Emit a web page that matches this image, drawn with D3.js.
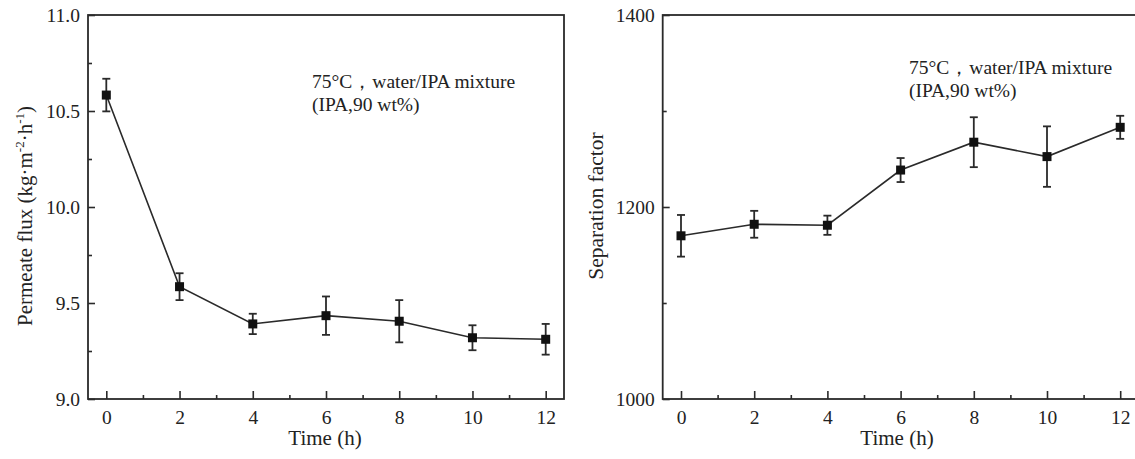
<!DOCTYPE html>
<html>
<head>
<meta charset="utf-8">
<script src="https://cdn.jsdelivr.net/npm/d3@7"></script>
<style>
  body { margin: 0; background: #fff; }
  svg text { font-family: "Liberation Serif", "Times New Roman", serif; fill: #222; }
</style>
</head>
<body>
<svg id="chart" width="1135" height="459"></svg>
<script>
// Data
var times = [0, 2, 4, 6, 8, 10, 12];
var fluxValues = [10.583, 9.585, 9.391, 9.434, 9.405, 9.319, 9.311];
var fluxErrors = [0.085, 0.07, 0.053, 0.10, 0.11, 0.065, 0.08];
var sepValues = [1170, 1182, 1181, 1238.5, 1267.5, 1252.5, 1283];
var sepErrors = [21.7, 14, 10, 12.5, 26, 31.5, 12];
var xTicks = [0, 2, 4, 6, 8, 10, 12];
var fluxTicks = [9.0, 9.5, 10.0, 10.5, 11.0];
var sepTicks = [1000, 1200, 1400];
var noteLine1 = "75°C，water/IPA mixture";
var noteLine2 = "(IPA,90 wt%)";

var svg = d3.select("#chart");
var stroke = "#2a2a2a";

function drawPanel(opt) {
  var x = d3.scaleLinear().domain([-0.5, 12.5]).range([opt.left, opt.right]);
  var y = d3.scaleLinear().domain(opt.yDomain).range([399, 15]);
  var g = svg.append("g");

  // frame
  g.append("rect")
    .attr("x", opt.left).attr("y", 15)
    .attr("width", opt.right - opt.left).attr("height", 384)
    .attr("fill", "none").attr("stroke", stroke).attr("stroke-width", 1.8);

  // x axis (ticks inward)
  var xAxis = g.append("g").attr("transform", "translate(0,399)")
    .call(d3.axisBottom(x).tickValues(xTicks).tickSizeInner(-8).tickSizeOuter(0).tickPadding(11).tickFormat(d3.format("d")));
  xAxis.select(".domain").remove();
  g.append("g").attr("transform", "translate(0,399)")
    .call(d3.axisBottom(x).tickValues(d3.range(1, 13, 2)).tickSizeInner(-4).tickSizeOuter(0).tickFormat(""))
    .select(".domain").remove();

  // y axis
  var yAxis = g.append("g").attr("transform", "translate(" + opt.left + ",0)")
    .call(d3.axisLeft(y).tickValues(opt.yTicks).tickSizeInner(-7).tickSizeOuter(0).tickPadding(8).tickFormat(opt.yFormat));
  yAxis.select(".domain").remove();
  g.append("g").attr("transform", "translate(" + opt.left + ",0)")
    .call(d3.axisLeft(y).tickValues(opt.yMinor).tickSizeInner(-4).tickSizeOuter(0).tickFormat(""))
    .select(".domain").remove();

  g.selectAll(".tick line").attr("stroke", stroke).attr("stroke-width", 1.6);
  g.selectAll(".tick text").attr("font-size", 19.5).attr("fill", "#222")
    .style("font-family", "'Liberation Serif', serif");

  // error bars
  var pts = times.map(function (t, i) { return { t: t, v: opt.values[i], e: opt.errors[i] }; });
  var eb = g.selectAll(".eb").data(pts).enter().append("g").attr("class", "eb");
  eb.append("line")
    .attr("x1", d => x(d.t)).attr("x2", d => x(d.t))
    .attr("y1", d => y(d.v - d.e)).attr("y2", d => y(d.v + d.e));
  eb.append("line")
    .attr("x1", d => x(d.t) - 4).attr("x2", d => x(d.t) + 4)
    .attr("y1", d => y(d.v + d.e)).attr("y2", d => y(d.v + d.e));
  eb.append("line")
    .attr("x1", d => x(d.t) - 4).attr("x2", d => x(d.t) + 4)
    .attr("y1", d => y(d.v - d.e)).attr("y2", d => y(d.v - d.e));
  eb.selectAll("line").attr("stroke", stroke).attr("stroke-width", 1.8);

  // line
  g.append("path").datum(pts)
    .attr("d", d3.line().x(d => x(d.t)).y(d => y(d.v)))
    .attr("fill", "none").attr("stroke", stroke).attr("stroke-width", 1.6);

  // markers
  g.selectAll(".pt").data(pts).enter().append("rect")
    .attr("x", d => x(d.t) - 4.5).attr("y", d => y(d.v) - 4.5)
    .attr("width", 9).attr("height", 9).attr("fill", "#111");

  // annotation
  var note = g.append("text").attr("font-size", 19.5).attr("x", opt.noteX).attr("y", opt.noteY);
  note.append("tspan").text(noteLine1);
  note.append("tspan").attr("x", opt.noteX).attr("dy", 23).text(noteLine2);

  // x label
  g.append("text").attr("x", opt.xLabelX).attr("y", 445)
    .attr("text-anchor", "middle").attr("font-size", 21).text("Time (h)");

  return g;
}

var left = drawPanel({
  left: 88, right: 564, yDomain: [9, 11], yTicks: fluxTicks,
  yMinor: [9.25, 9.75, 10.25, 10.75], yFormat: d3.format(".1f"),
  values: fluxValues, errors: fluxErrors,
  noteX: 312, noteY: 88, xLabelX: 325
});

var right = drawPanel({
  left: 662.7, right: 1138.5, yDomain: [1000, 1400], yTicks: sepTicks,
  yMinor: [1100, 1300], yFormat: d3.format("d"),
  values: sepValues, errors: sepErrors,
  noteX: 909, noteY: 74, xLabelX: 897
});

// y labels
var yl = svg.append("text").attr("font-size", 21)
  .attr("transform", "translate(32,216) rotate(-90)").attr("text-anchor", "middle");
yl.append("tspan").text("Permeate flux (kg·m");
yl.append("tspan").attr("font-size", 13).attr("dy", -8).text("-2");
yl.append("tspan").attr("dy", 8).text("·h");
yl.append("tspan").attr("font-size", 13).attr("dy", -8).text("-1");
yl.append("tspan").attr("dy", 8).text(")");

svg.append("text").attr("font-size", 21.5)
  .attr("transform", "translate(603,206) rotate(-90)").attr("text-anchor", "middle")
  .text("Separation factor");
</script>
</body>
</html>
